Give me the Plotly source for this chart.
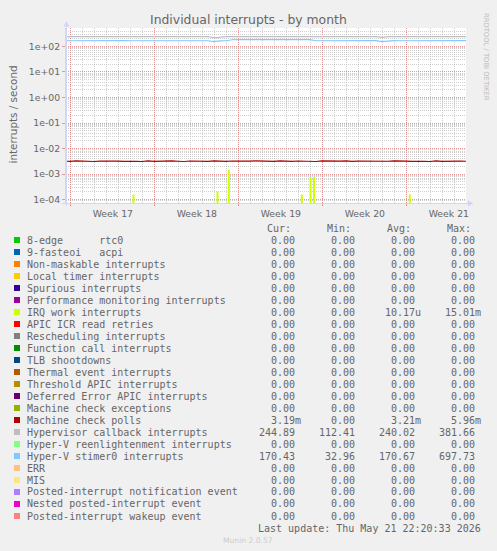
import plotly.graph_objects as go
import pandas as pd

# ---------------- data ----------------
sample_times = pd.date_range("2026-04-18 10:20", "2026-05-21 22:20", freq="12h")

hypervisor_callback = [
    243, 242, 243, 243, 242, 243, 242, 243, 243, 242,
    243, 242, 243, 242, 243, 243, 242, 243, 242, 243,
    243, 242, 243, 242, 243,
    214, 236,
    243, 242, 243,
    242, 243, 243, 242, 243, 242, 243, 243, 242, 243,
    242, 243, 243, 242, 243, 242, 243, 243, 242, 243,
    242, 243, 242,
    226,
    243, 242, 243, 243, 242, 243,
    242, 243, 243, 242, 243, 242, 243, 243,
]

hyperv_stimer0 = [
    166, 167, 166, 166, 167, 166, 166, 167, 166, 166,
    167, 166, 166, 167, 166, 166, 167, 166, 166, 167,
    166, 166, 167, 166, 166,
    153,
    165, 166,
    182, 183, 182, 182, 183, 182, 182, 183, 182, 182,
    183, 182, 182, 183,
    166, 167, 166, 166, 167, 166, 166, 167,
    166, 166, 167,
    155,
    166, 167, 166, 166, 167, 166,
    166, 167, 166, 166, 167, 166, 166, 167,
]

machine_check_polls = [
    0.00322, 0.00314, 0.00328, 0.00318, 0.00326, 0.00312, 0.00324, 0.00330, 0.00316, 0.00322,
    0.00314, 0.00326, 0.00320, 0.00312, 0.00328, 0.00318, 0.00324, 0.00316, 0.00330, 0.00320,
    0.00312, 0.00326, 0.00318, 0.00324, 0.00314, 0.00328, 0.00320, 0.00316, 0.00326, 0.00322,
    0.00312, 0.00324, 0.00330, 0.00318, 0.00322, 0.00314, 0.00328, 0.00320, 0.00316, 0.00326,
    0.00318, 0.00322, 0.00312, 0.00328, 0.00320, 0.00316, 0.00324, 0.00330, 0.00314, 0.00322,
    0.00318, 0.00326, 0.00312, 0.00324, 0.00320, 0.00328, 0.00316, 0.00322, 0.00314, 0.00326,
    0.00320, 0.00312, 0.00328, 0.00318, 0.00324, 0.00316, 0.00322, 0.00319,
]

irq_work_times = [
    "2026-04-24 05:20", "2026-05-01 05:20", "2026-05-02 04:00",
    "2026-05-08 05:56", "2026-05-08 23:20", "2026-05-09 06:20", "2026-05-17 05:56",
]
irq_work_values = [1.6e-4, 2.1e-4, 1.5e-3, 1.6e-4, 7.7e-4, 7.7e-4, 1.6e-4]

week_starts = ["2026-04-19", "2026-04-26", "2026-05-03", "2026-05-10", "2026-05-17"]
week_labels = ["Week 17", "Week 18", "Week 19", "Week 20", "Week 21"]

y_tick_vals = [1e-4, 1e-3, 1e-2, 1e-1, 1e0, 1e1, 1e2]
y_tick_text = ["1e-04", "1e-03", "1e-02", "1e-01", "1e+00", "1e+01", "1e+02"]

legend_names = [
    "8-edge      rtc0", "9-fasteoi   acpi", "Non-maskable interrupts",
    "Local timer interrupts", "Spurious interrupts", "Performance monitoring interrupts",
    "IRQ work interrupts", "APIC ICR read retries", "Rescheduling interrupts",
    "Function call interrupts", "TLB shootdowns", "Thermal event interrupts",
    "Threshold APIC interrupts", "Deferred Error APIC interrupts", "Machine check exceptions",
    "Machine check polls", "Hypervisor callback interrupts", "Hyper-V reenlightenment interrupts",
    "Hyper-V stimer0 interrupts", "ERR", "MIS", "Posted-interrupt notification event",
    "Nested posted-interrupt event", "Posted-interrupt wakeup event",
]
legend_colors = [
    "#00CC00", "#0066B3", "#FF8000", "#FFCC00", "#330099", "#990099", "#CCFF00", "#FF0000",
    "#808080", "#008F00", "#00487D", "#B35A00", "#B38F00", "#6B006B", "#8FB300", "#B30000",
    "#BEBEBE", "#80FF80", "#80C9FF", "#FFC080", "#FFE680", "#AA80FF", "#EE00CC", "#FF8080",
]
legend_cur = ["0.00"] * 15 + ["3.19m", "244.89", "0.00", "170.43"] + ["0.00"] * 5
legend_min = ["0.00"] * 16 + ["112.41", "0.00", "32.96"] + ["0.00"] * 5
legend_avg = ["0.00"] * 6 + ["10.17u"] + ["0.00"] * 8 + ["3.21m", "240.02", "0.00", "170.67"] + ["0.00"] * 5
legend_max = ["0.00"] * 6 + ["15.01m"] + ["0.00"] * 8 + ["5.96m", "381.66", "0.00", "697.73"] + ["0.00"] * 5

last_update = "Last update: Thu May 21 22:20:33 2026"

# ---------------- layout helpers ----------------
W, H = 497, 551
L, R, T, B = 66, 31, 28, 348
PW = W - L - R
PH = H - T - B


def px(x):
    return (x - L) / PW


def py(y):
    return (H - B - y) / PH


FONT = "DejaVu Sans"
MONO = "DejaVu Sans Mono"
TXT = "#666666"
AXIS = "#CFD6F8"
MGRID = "rgba(225,120,120,0.75)"
GRID = "rgba(170,170,170,0.55)"
NB = "\u00a0"

fig = go.Figure()

fig.add_trace(go.Bar(
    x=pd.to_datetime(irq_work_times), y=irq_work_values, width=4 * 3600 * 1000,
    marker=dict(color="#CCFF00", line=dict(width=0)), showlegend=False, hoverinfo="skip",
))
fig.add_trace(go.Scatter(
    x=sample_times, y=machine_check_polls, mode="lines",
    line=dict(color="#B30000", width=1.2), showlegend=False, hoverinfo="skip",
))
fig.add_trace(go.Scatter(
    x=sample_times, y=hypervisor_callback, mode="lines",
    line=dict(color="#BEBEBE", width=1.2), showlegend=False, hoverinfo="skip",
))
fig.add_trace(go.Scatter(
    x=sample_times, y=hyperv_stimer0, mode="lines",
    line=dict(color="#80C9FF", width=1.2), showlegend=False, hoverinfo="skip",
))

minor_y = [k * 10 ** e for e in range(-5, 3) for k in range(2, 10)]

fig.update_layout(
    width=W, height=H,
    margin=dict(l=L, r=R, t=T, b=B, pad=0, autoexpand=False),
    paper_bgcolor="#F0F0F0", plot_bgcolor="#FFFFFF",
    showlegend=False,
    xaxis=dict(
        type="date", range=["2026-04-18 14:20:33", "2026-05-21 22:20:33"],
        tickmode="array", tickvals=week_starts, ticktext=week_labels, ticklabelshift=42,
        showgrid=True, gridcolor=MGRID, griddash="1px,1px", gridwidth=1,
        minor=dict(dtick=86400000, tick0="2026-04-19", showgrid=True, gridcolor=GRID,
                   griddash="1px,1px", gridwidth=1, ticks=""),
        ticks="outside", ticklen=2, tickcolor=MGRID,
        showline=True, linecolor=AXIS, linewidth=1, zeroline=False,
        tickfont=dict(family=FONT, size=9.3, color=TXT),
    ),
    yaxis=dict(
        type="log", range=[-4.13, 2.72],
        tickmode="array", tickvals=y_tick_vals, ticktext=y_tick_text,
        showgrid=True, gridcolor=MGRID, griddash="1px,1px", gridwidth=1,
        minor=dict(tickmode="array", tickvals=minor_y, showgrid=True, gridcolor=GRID,
                   griddash="1px,1px", gridwidth=1, ticks=""),
        ticks="outside", ticklen=3, tickcolor=MGRID,
        showline=True, linecolor=AXIS, linewidth=1, zeroline=False,
        tickfont=dict(family=FONT, size=9.3, color=TXT),
    ),
)

ann = []
shapes = []


def text(x, y, s, size=10, family=MONO, color=TXT, xanchor="left", angle=0):
    ann.append(dict(x=px(x), y=py(y), xref="paper", yref="paper", text=s, showarrow=False,
                    xanchor=xanchor, yanchor="middle", textangle=angle, borderpad=0,
                    font=dict(family=family, size=size, color=color)))


text(248.3, 19, "Individual interrupts - by month", size=12.4, family=FONT, xanchor="center")
text(12, 114.5, "interrupts / second", size=10.4, family=FONT, xanchor="center", angle=-90)
text(486, 57, "RRDTOOL / TOBI OETIKER", size=6.8, family=FONT, color="#BBBBBB",
     xanchor="center", angle=90)

# column headers
for hx, h in zip([266, 326, 386, 446], ["Cur:", "Min:", "Avg:", "Max:"]):
    text(hx, 228, h)


def fmt(v):
    return v if v[-1].isalpha() else v + NB


for i, name in enumerate(legend_names):
    yy = 240 + 12 * i
    shapes.append(dict(type="rect", xref="paper", yref="paper",
                       x0=px(14), x1=px(20), y0=py(yy + 3), y1=py(yy - 3),
                       fillcolor=legend_colors[i], line=dict(width=0)))
    text(26, yy, name.replace(" ", NB))
    for cx, col in zip([302, 362, 422, 482], [legend_cur, legend_min, legend_avg, legend_max]):
        text(cx, yy, fmt(col[i]), xanchor="right")

text(482, 528, last_update.replace(" ", NB), xanchor="right")
text(247.7, 540, "Munin 2.0.57", size=7.6, family=FONT, color="#CCCCCC", xanchor="center")

# axis arrows
shapes.append(dict(type="line", xref="paper", yref="paper", x0=px(66.5), x1=px(66.5),
                   y0=py(206), y1=py(24), line=dict(color=AXIS, width=1)))
shapes.append(dict(type="path", xref="paper", yref="paper",
                   path=f"M {px(63.5)} {py(26.5)} L {px(66.5)} {py(21)} L {px(69.5)} {py(26.5)} Z",
                   fillcolor=AXIS, line=dict(width=0)))
shapes.append(dict(type="line", xref="paper", yref="paper", x0=px(62), x1=px(470),
                   y0=py(203.5), y1=py(203.5), line=dict(color=AXIS, width=1)))
shapes.append(dict(type="path", xref="paper", yref="paper",
                   path=f"M {px(468)} {py(200.5)} L {px(473.5)} {py(203.5)} L {px(468)} {py(206.5)} Z",
                   fillcolor=AXIS, line=dict(width=0)))

fig.update_layout(annotations=ann, shapes=shapes)

fig.write_html(
    "out.html",
    config={"displayModeBar": False},
    post_script="document.body.style.margin='0';document.body.style.padding='0';",
)
